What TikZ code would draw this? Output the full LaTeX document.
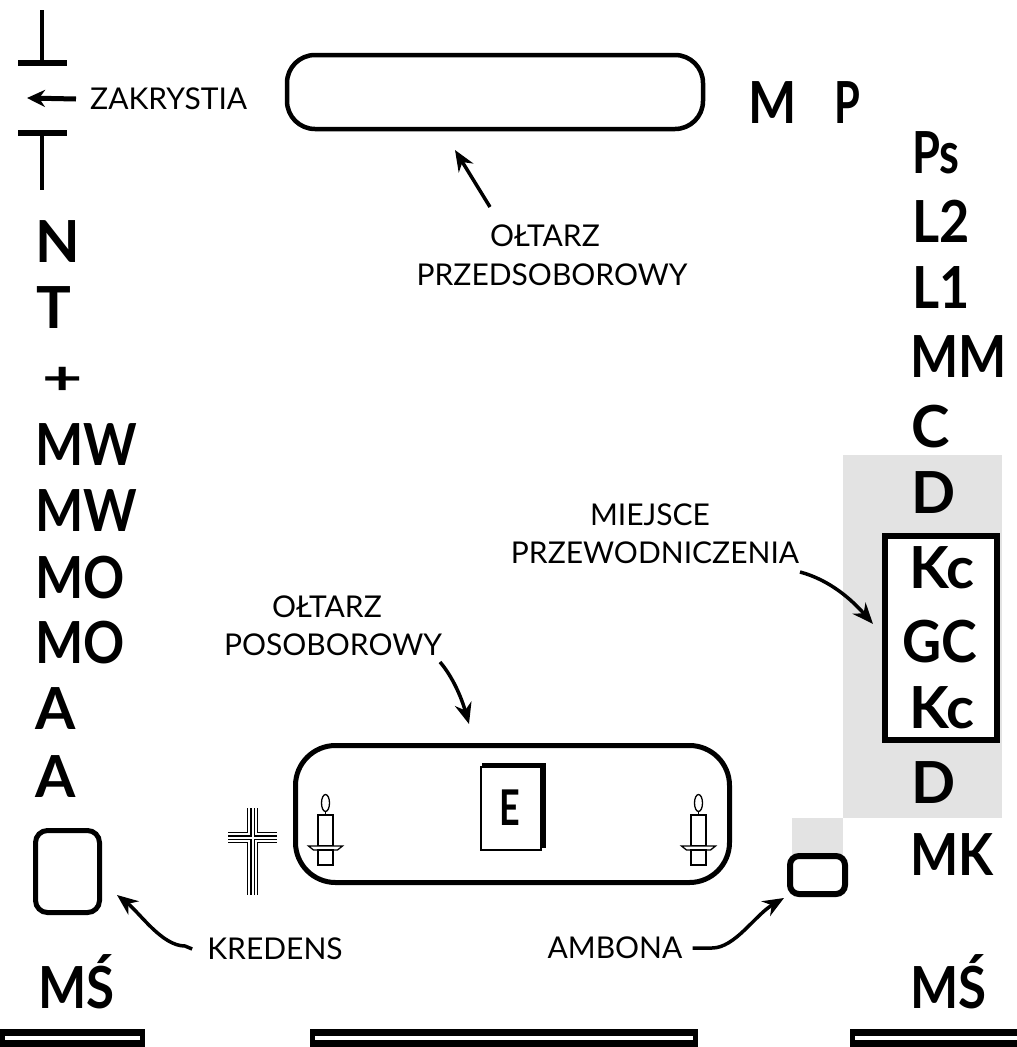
\documentclass[tikz,border=0pt]{standalone}
\usepackage{fontspec}
\setmainfont{Lato}
\usetikzlibrary{arrows.meta}
\newcommand\bigf{\fontsize{58}{58}\selectfont\bfseries}
\newcommand\labf{\fontsize{30}{30}\selectfont}
\begin{document}
\begin{tikzpicture}[x=1pt,y=-1pt,
  big/.style={font=\bigf, inner sep=0pt, anchor=base west},
  wide/.style={big, xscale=0.88},
  lab/.style={font=\labf, inner sep=0pt},
  arr/.style={line width=3.5pt, -{Stealth[length=21pt,width=17pt]}},
  candle/.pic={
    \draw[line width=1.3pt, fill=white] (-7.5,-31) rectangle (7.5,0);
    \draw[line width=1.3pt] (0,-34) -- (0,-31);
    \draw[line width=1.3pt, fill=white] (0,-43) ellipse [x radius=4, y radius=8.5];
    \draw[line width=1.3pt, fill=white] (-17,0) -- (17,0) -- (12,4) -- (-12,4) -- cycle;
    \draw[line width=1.3pt, fill=white] (-7.5,4) rectangle (7.5,19);
  },
  floorbar/.pic={
    \fill (0,0) rectangle (#1,19);
    \fill[white] (5,7) rectangle (#1-5,11);
  }]
\useasboundingbox (0,0) rectangle (1017,1047);
\fill[white] (0,0) rectangle (1017,1047);
% gray areas
\fill[gray!22] (843,455) rectangle (1002,818);
\fill[gray!22] (792,818) rectangle (843,856);

% sacristy door
\draw[line width=4.5pt] (42,10) -- (42,63);
\draw[line width=6.5pt] (18,63) -- (67,63);
\draw[line width=6.5pt] (18,133) -- (67,133);
\draw[line width=4.5pt] (42,133) -- (42,190);
\node[lab, anchor=west] (zak) at (90,99) {ZAKRYSTIA};
\coordinate (zakend) at (27,98);
\draw[line width=5pt, -{Stealth[length=18pt,width=17pt]}] ([xshift=-14pt]zak.west) -- (zakend);

% top altar
\node[draw, line width=4.5pt, rounded corners=28pt, minimum width=416pt, minimum height=74pt, inner sep=0pt] (alt1) at (495,92) {};
\node[lab] (l1a) at (545,236) {OŁTARZ};
\node[lab] (l1b) at (552,275) {PRZEDSOBOROWY};
\coordinate (a1s) at (490,207);
\coordinate (a1e) at (455,150);
\draw[arr] (a1s) -- (a1e);

\node[big, xscale=0.88] (m) at (748,123) {M};
\node[big, xscale=0.72] (p) at (834,123) {P};

% left column
\node[big] (n) at (35,262) {N};
\node[big] (t) at (36,328) {T};
\node[font=\bigf, inner sep=0pt, xscale=1.2, yscale=0.8] (plus) at (63,381) {+};
\node[wide] (mw1) at (35,465) {MW};
\node[wide] (mw2) at (35,531) {MW};
\node[wide] (mo1) at (35,598) {MO};
\node[wide] (mo2) at (35,663) {MO};
\node[big] (a1) at (35,729) {A};
\node[big] (a2) at (35,797) {A};
\node[draw, line width=5pt, rounded corners=12pt, minimum width=64pt, minimum height=82pt, inner sep=0pt] (kred) at (67.5,871.5) {};
\node[wide] (ms1) at (38,1008) {MŚ};

% right column
\node[big, xscale=0.78] (ps) at (912,173) {Ps};
\node[big, xscale=0.9] (l2) at (912,242) {L2};
\node[big, xscale=0.9] (l1) at (912,308) {L1};
\node[wide] (mm) at (910,377) {MM};
\node[big] (c) at (911,447) {C};
\node[big] (d1) at (911,513) {D};
\draw[line width=6pt, fill=white] (885,536) rectangle (997,740);
\node[font=\bigf, inner sep=0pt, anchor=base] (kc1) at (942,588) {Kc};
\node[font=\bigf, inner sep=0pt, anchor=base, xscale=0.93] (gc) at (940,662) {GC};
\node[font=\bigf, inner sep=0pt, anchor=base] (kc2) at (942,728) {Kc};
\node[big] (d2) at (911,803) {D};
\node[wide] (mk) at (910,875) {MK};
\node[wide] (ms2) at (910,1008) {MŚ};

% chair label
\node[lab] (mie1) at (650,515) {MIEJSCE};
\node[lab] (mie2) at (655,553) {PRZEWODNICZENIA};
\coordinate (a3s) at (800,572);
\coordinate (a3e) at (873,624);
\draw[arr] (a3s) .. controls (830,580) and (852,600) .. (a3e);

% bottom altar
\node[lab] (l2a) at (327,607) {OŁTARZ};
\node[lab] (l2b) at (333,645) {POSOBOROWY};
\coordinate (a2s) at (440,662);
\coordinate (a2e) at (469,724);
\draw[arr] (a2s) .. controls (452,676) and (461,696) .. (a2e);
\node[draw, line width=5pt, rounded corners=40pt, minimum width=434pt, minimum height=137pt, inner sep=0pt] (alt2) at (512.5,814) {};
% book
\draw[line width=1.5pt, fill=white] (481,767) rectangle (541,850);
\draw[line width=4pt] (482,765) -- (544,765) -- (544,848);
\node[font=\bigf, inner sep=0pt, xscale=0.62, yscale=0.85] (e) at (510,808) {E};
% candles
\pic at (325.5,846) {candle};
\pic at (698.5,846) {candle};
% cross
\foreach \w/\c in {11/black,8.5/white,4.5/black,2/white}{
  \draw[line width=\w pt, \c] (252.5,808) -- (252.5,895);
  \draw[line width=\w pt, \c] (228,837.5) -- (277,837.5);
}

% kredens label
\node[lab] (kl) at (275,949) {KREDENS};
\coordinate (a4e) at (117,895);
\draw[arr] ([xshift=-15pt]kl.west) -- (185,946) .. controls (162,946) and (140,913) .. (a4e);

% ambona
\node[draw, line width=6pt, rounded corners=9pt, minimum width=55pt, minimum height=38pt, inner sep=0pt, fill=white] (amb) at (817.5,875) {};
\node[lab] (al) at (615,948) {AMBONA};
\coordinate (a5e) at (784,898);
\draw[arr] ([xshift=10pt]al.east) -- (712,948) .. controls (735,948) and (755,915) .. (a5e);

% floor bars
\pic at (0,1029) {floorbar=145};
\pic at (310,1029) {floorbar=388};
\pic at (850,1029) {floorbar=180};
\end{tikzpicture}
\end{document}
